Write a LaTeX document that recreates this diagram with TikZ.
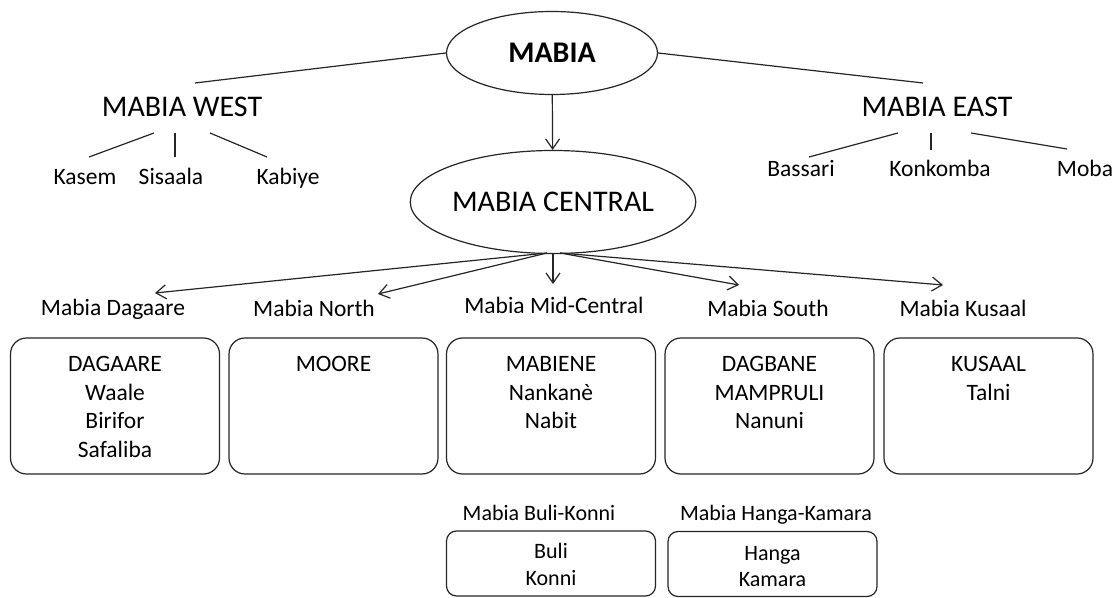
\documentclass[tikz,border=0pt]{standalone}
\usepackage{fontspec}
\setmainfont{Carlito}
\usetikzlibrary{shapes.geometric,arrows.meta}
\begin{document}
\begin{tikzpicture}[x=0.5pt,y=-0.5pt,
 line/.style={draw=black!85, line width=0.6pt},
 arr/.style={line, -{Straight Barb[length=5pt,width=7pt]}},
 oval/.style={draw=black!85, line width=0.6pt, ellipse, inner sep=0pt},
 bigtext/.style={font=\fontsize{15}{18}\selectfont, inner sep=0pt, anchor=base},
 smalltext/.style={font=\fontsize{11.75}{14}\selectfont, inner sep=0pt, anchor=base},
 tinytext/.style={font=\fontsize{11}{13}\selectfont, inner sep=0pt, anchor=base},
 grp/.style={draw=black!85, line width=0.6pt, rounded corners=8pt, minimum width=104.5pt, minimum height=68pt, inner sep=0pt},
 sgrp/.style={draw=black!85, line width=0.6pt, rounded corners=5pt, minimum width=104.5pt, minimum height=32.5pt, inner sep=0pt}
]
\fill[white] (0,0) rectangle (1117,598);
\useasboundingbox (0,0) rectangle (1117,598);

% top level
\node[oval, minimum width=105.5pt, minimum height=41.5pt, font=\fontsize{15}{18}\selectfont\bfseries] (root) at (552,53) {MABIA};
\node[oval, minimum width=141.5pt, minimum height=51.5pt, font=\fontsize{15}{18}\selectfont] (cen) at (553,202) {MABIA CENTRAL};
\node[bigtext] (west) at (182,117) {MABIA WEST};
\node[bigtext] (east) at (937,117) {MABIA EAST};

\coordinate (wtop) at (195,83);
\coordinate (etop) at (923,83);
\draw[line] (root.west) -- (wtop);
\draw[line] (root.east) -- (etop);
\draw[arr] (root) -- (cen);

% west
\node[smalltext] (kasem) at (85,185) {Kasem};
\node[smalltext] (sisaala) at (171,185) {Sisaala};
\node[smalltext] (kabiye) at (288,185) {Kabiye};
\coordinate (w1a) at (154,133); \coordinate (w1b) at (89,157);
\coordinate (w2a) at (175,133); \coordinate (w2b) at (175,157);
\coordinate (w3a) at (210,133); \coordinate (w3b) at (267,157);
\draw[line] (w1a) -- (w1b);
\draw[line] (w2a) -- (w2b);
\draw[line] (w3a) -- (w3b);

% east
\node[smalltext] (bassari) at (801,177) {Bassari};
\node[smalltext] (konkomba) at (940,177) {Konkomba};
\node[smalltext] (moba) at (1085,177) {Moba};
\coordinate (e1a) at (898,133); \coordinate (e1b) at (809,157);
\coordinate (e2a) at (931,133); \coordinate (e2b) at (931,150);
\coordinate (e3a) at (971,133); \coordinate (e3b) at (1067,149);
\draw[line] (e1a) -- (e1b);
\draw[line] (e2a) -- (e2b);
\draw[line] (e3a) -- (e3b);

% level 2 labels
\node[smalltext] (ldag) at (113,315) {Mabia Dagaare};
\node[smalltext] (lnor) at (314,316) {Mabia North};
\node[smalltext] (lmid) at (554,314) {Mabia Mid-Central};
\node[smalltext] (lsou) at (768,316) {Mabia South};
\node[smalltext] (lkus) at (963,316) {Mabia Kusaal};

\coordinate (cl) at (547,253);
\coordinate (cm) at (553,254);
\coordinate (cr) at (560,253);
\coordinate (tdag) at (155,293);
\coordinate (tnor) at (378,294);
\coordinate (tmid) at (553,284);
\coordinate (tsou) at (739,285);
\coordinate (tkus) at (943,285);
\draw[arr] (cl) -- (tdag);
\draw[arr] (cl) -- (tnor);
\draw[arr] (cm) -- (tmid);
\draw[arr] (cr) -- (tsou);
\draw[arr] (cr) -- (tkus);

% boxes
\node[grp] (b1) at (115,406) {};
\node[grp] (b2) at (333.5,406) {};
\node[grp] (b3) at (551,406) {};
\node[grp] (b4) at (769.5,406) {};
\node[grp] (b5) at (988.5,406) {};

\node[smalltext] (b1a) at (115,371) {DAGAARE};
\node[smalltext] (b1b) at (115,400) {Waale};
\node[smalltext] (b1c) at (115,428.5) {Birifor};
\node[smalltext] (b1d) at (115,457) {Safaliba};

\node[smalltext] (b2a) at (333.5,371) {MOORE};

\node[smalltext] (b3a) at (551,371) {MABIENE};
\node[smalltext] (b3b) at (551,400) {Nankanè};
\node[smalltext] (b3c) at (551,428.5) {Nabit};

\node[smalltext] (b4a) at (769.5,371) {DAGBANE};
\node[smalltext] (b4b) at (769.5,400) {MAMPRULI};
\node[smalltext] (b4c) at (769.5,428.5) {Nanuni};

\node[smalltext] (b5a) at (988.5,371) {KUSAAL};
\node[smalltext] (b5b) at (988.5,400) {Talni};

% bottom level
\node[tinytext] (lbul) at (539,520) {Mabia Buli-Konni};
\node[tinytext] (lhan) at (776,520) {Mabia Hanga-Kamara};
\node[sgrp] (s1) at (551,563.5) {};
\node[sgrp] (s2) at (772.5,564) {};
\node[tinytext] (s1a) at (551,558) {Buli};
\node[tinytext] (s1b) at (551,585) {Konni};
\node[tinytext] (s2a) at (772.5,560) {Hanga};
\node[tinytext] (s2b) at (772.5,586) {Kamara};
\end{tikzpicture}
\end{document}
